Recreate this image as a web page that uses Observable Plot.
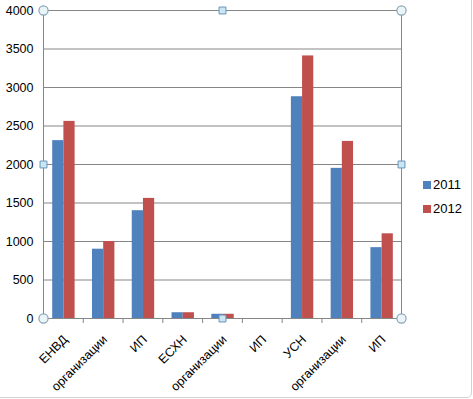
<!DOCTYPE html>
<html><head><meta charset="utf-8">
<script src="https://cdn.jsdelivr.net/npm/d3@7"></script>
<script src="https://cdn.jsdelivr.net/npm/@observablehq/plot@0.6"></script>
<style>
body{margin:0;background:#fff;}
#wrap{position:relative;width:473px;height:399px;overflow:hidden;font-family:"Liberation Sans",Arial,sans-serif;color:#000;}
#frame{position:absolute;left:-10px;top:-10px;width:482px;height:408px;box-sizing:border-box;border:1px solid #cfd3d6;border-radius:5px;}
#chart{position:absolute;left:0;top:0;}
#legend{position:absolute;left:423px;top:177px;font-size:13px;line-height:16px;}
.item{display:flex;align-items:center;height:16px;margin-bottom:8px;}
.sw{width:8px;height:8px;margin-right:2px;}
</style></head><body>
<div id="wrap"><div id="frame"></div><div id="chart"></div><div id="legend"></div></div>
<script>
const categories = ["ЕНВД", "организации", "ИП", "ЕСХН", "организации", "ИП", "УСН", "организации", "ИП"];
const years = ["2011", "2012"];
const values2011 = [2310, 900, 1400, 75, 55, 0, 2880, 1950, 920];
const values2012 = [2560, 1000, 1560, 75, 55, 0, 3410, 2300, 1100];
const yTicks = [0, 500, 1000, 1500, 2000, 2500, 3000, 3500, 4000];
const colors = ["#4F81BD", "#C0504D"];

const keys = categories.map((_, i) => i);
const rows2011 = keys.map(i => ({key: i, value: values2011[i]}));
const rows2012 = keys.map(i => ({key: i, value: values2012[i]}));

const W = 473, H = 399, mL = 43, mR = 72, mT = 10, mB = 81;
const bw = (W - mL - mR) / categories.length;
const barW = 11.2, lead = 9.2;
const gridColor = "#868686";
const hCircle = {fill: "#eaf5f9", stroke: "#8aa3b5", strokeWidth: 1.2, r: 4.6};
const hSquare = {fill: "#c9e6f3", stroke: "#6b93b8", strokeWidth: 1, symbol: "square", r: 3.9};

const chart = Plot.plot({
  width: W, height: H,
  marginLeft: mL, marginRight: mR, marginTop: mT, marginBottom: mB,
  style: {fontFamily: '"Liberation Sans", Arial, sans-serif', fontSize: "12.5px", color: "#000", background: "transparent"},
  x: {type: "band", domain: keys, paddingInner: 0, paddingOuter: 0, round: false, label: null},
  y: {domain: [0, 4000], label: null},
  marks: [
    Plot.gridY(yTicks, {stroke: gridColor, strokeOpacity: 1}),
    Plot.frame({stroke: gridColor}),
    Plot.barY(rows2011, {x: "key", y: "value", fill: colors[0], insetLeft: lead, insetRight: bw - lead - barW}),
    Plot.barY(rows2012, {x: "key", y: "value", fill: colors[1], insetLeft: lead + barW, insetRight: bw - lead - 2 * barW}),
    Plot.ruleX(keys, {x: d => d, y1: () => 0, y2: () => 0, dx: -bw / 2, insetBottom: -5, stroke: gridColor}),
    Plot.ruleX([keys[keys.length - 1]], {x: d => d, y1: () => 0, y2: () => 0, dx: bw / 2, insetBottom: -5, stroke: gridColor}),
    Plot.axisY(yTicks, {tickSize: 0, tickPadding: 10, tickFormat: d => String(d), fill: "#000", label: null}),
    Plot.axisX({tickSize: 0, tickPadding: 19, dx: 2, tickRotate: -45, tickFormat: i => categories[i], fill: "#000", label: null}),
    Plot.dot([0], {frameAnchor: "top-left", ...hCircle}),
    Plot.dot([0], {frameAnchor: "top-right", ...hCircle}),
    Plot.dot([0], {frameAnchor: "bottom-left", ...hCircle}),
    Plot.dot([0], {frameAnchor: "bottom-right", ...hCircle}),
    Plot.dot([4000, 0], {x: () => keys[4], y: d => d, ...hSquare}),
    Plot.dot([2000], {y: d => d, frameAnchor: "left", ...hSquare}),
    Plot.dot([2000], {y: d => d, frameAnchor: "right", ...hSquare})
  ]
});
document.getElementById("chart").appendChild(chart);

const legend = document.getElementById("legend");
years.forEach((y, i) => {
  const item = document.createElement("div");
  item.className = "item";
  item.innerHTML = `<span class="sw" style="background:${colors[i]}"></span><span>${y}</span>`;
  legend.appendChild(item);
});
</script>
</body></html>
